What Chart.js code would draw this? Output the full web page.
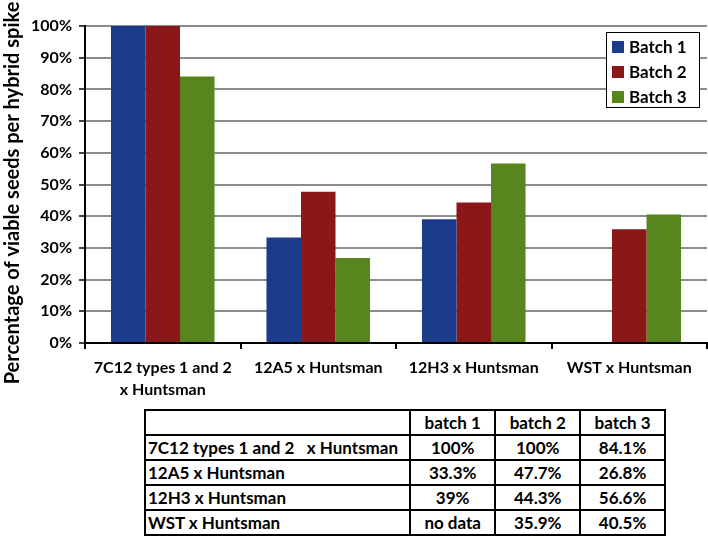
<!DOCTYPE html>
<html>
<head>
<meta charset="utf-8">
<script src="https://cdn.jsdelivr.net/npm/chart.js@4.4.1/dist/chart.umd.min.js"></script>
<style>
  html, body { margin: 0; padding: 0; background: #fff; }
  body { width: 708px; height: 545px; position: relative; overflow: hidden; font-family: Lato, "Open Sans", sans-serif; }
  #wrap { position: absolute; left: 0; top: 0; width: 708px; height: 400px; }
  #tbl { position: absolute; left: 144px; top: 409px; width: 522px; border-collapse: collapse; font-weight: bold; font-size: 17px; color: #000; }
  #tbl td { border: 2px solid #000; height: 23px; padding: 0 3px; line-height: 22px; white-space: pre; text-align: center; }
  #tbl td.name { text-align: left; width: 258px; padding-left: 2px; }
</style>
</head>
<body>
<div id="wrap"><canvas id="c" width="708" height="400"></canvas></div>
<table id="tbl"></table>
<script>
// ---- data ----
const categories = [["7C12 types 1 and 2", "x Huntsman"], "12A5 x Huntsman", "12H3 x Huntsman", "WST x Huntsman"];
const tableRowLabels = ["7C12 types 1 and 2   x Huntsman", "12A5 x Huntsman", "12H3 x Huntsman", "WST x Huntsman"];
const seriesNames = ["Batch 1", "Batch 2", "Batch 3"];
const tableHeaders = ["batch 1", "batch 2", "batch 3"];
const batch1 = [100, 33.3, 39, null];
const batch2 = [100, 47.7, 44.3, 35.9];
const batch3 = [84.1, 26.8, 56.6, 40.5];
const yTicks = [0, 10, 20, 30, 40, 50, 60, 70, 80, 90, 100];
const yTitle = "Percentage of viable seeds per hybrid spike";
const colors = ["#1c3b8b", "#8b1718", "#58851d"];

const series = [batch1, batch2, batch3];
const FONT = "Lato, 'Open Sans', sans-serif";

const legendBox = {
  id: 'legendBox',
  afterDraw(chart) {
    const ctx = chart.ctx;
    const x = 606, y = 32, w = 93, h = 75;
    ctx.save();
    ctx.fillStyle = '#fff';
    ctx.fillRect(x, y, w, h);
    ctx.strokeStyle = '#000';
    ctx.lineWidth = 1;
    ctx.strokeRect(x + 0.5, y + 0.5, w, h);
    ctx.font = "bold 17px " + FONT;
    ctx.textBaseline = 'middle';
    chart.data.datasets.forEach((ds, i) => {
      const cy = y + 15 + i * 25;
      ctx.fillStyle = ds.backgroundColor;
      ctx.fillRect(x + 6, cy - 6, 12, 12);
      ctx.fillStyle = '#000';
      ctx.fillText(ds.label, x + 23, cy + 1);
    });
    ctx.restore();
  }
};

const yTitlePlugin = {
  id: 'yTitlePlugin',
  afterDraw(chart) {
    const ctx = chart.ctx;
    ctx.save();
    ctx.translate(13, 193);
    ctx.rotate(-Math.PI / 2);
    ctx.font = "bold 20px " + FONT;
    ctx.fillStyle = '#000';
    ctx.textAlign = 'center';
    ctx.textBaseline = 'middle';
    ctx.fillText(yTitle, 0, 0);
    ctx.restore();
  }
};

new Chart(document.getElementById('c'), {
  type: 'bar',
  data: {
    labels: categories,
    datasets: series.map((d, i) => ({
      label: seriesNames[i],
      data: d,
      backgroundColor: colors[i],
      borderWidth: 0,
      categoryPercentage: 0.666,
      barPercentage: 1.0
    }))
  },
  options: {
    responsive: false,
    animation: false,
    devicePixelRatio: 1,
    layout: { padding: { left: 0, right: 1, top: 26, bottom: 0 } },
    plugins: { legend: { display: false }, tooltip: { enabled: false }, title: { display: false } },
    scales: {
      x: {
        grid: { drawOnChartArea: false, drawTicks: true, tickLength: 6, tickColor: '#000', lineWidth: 2, offset: true },
        border: { color: '#000', width: 2 },
        ticks: { color: '#000', font: { family: FONT, size: 16, weight: 'bold', lineHeight: 1.35 }, padding: 8, maxRotation: 0, autoSkip: false },
        afterFit(scale) { scale.height = 57; }
      },
      y: {
        min: 0, max: 100,
        afterBuildTicks(scale) { scale.ticks = yTicks.map(v => ({ value: v })); },
        grid: { color: '#8c8c8c', lineWidth: 2, tickLength: 6, tickColor: '#444' },
        border: { color: '#000', width: 2 },
        ticks: { color: '#000', font: { family: FONT, size: 16, weight: 'bold' }, padding: 7, callback: v => v + '%' },
        title: { display: false },
        afterFit(scale) { scale.width = 85; }
      }
    }
  },
  plugins: [legendBox, yTitlePlugin]
});

// ---- table ----
const fmt = v => v === null ? 'no data' : v + '%';
const tbl = document.getElementById('tbl');
let html = '<tr><td class="name"></td>' + tableHeaders.map(h => '<td>' + h + '</td>').join('') + '</tr>';
tableRowLabels.forEach((name, r) => {
  html += '<tr><td class="name">' + name + '</td>' + series.map(s => '<td>' + fmt(s[r]) + '</td>').join('') + '</tr>';
});
tbl.innerHTML = html;
</script>
</body>
</html>
